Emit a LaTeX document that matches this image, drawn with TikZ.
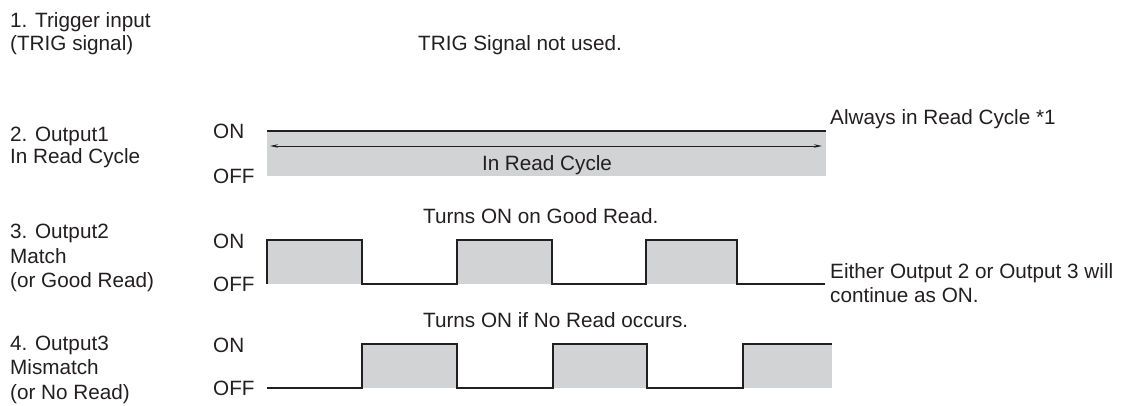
\documentclass[tikz,border=0pt]{standalone}
\usepackage{fontspec}
\setmainfont{Liberation Sans}
\usetikzlibrary{arrows.meta}
\definecolor{ink}{HTML}{231F20}
\definecolor{fillgray}{HTML}{D1D3D4}
\begin{document}
\begin{tikzpicture}[x=1pt,y=-1pt,
  lbl/.style={anchor=base west,inner sep=0pt,text=ink,font=\fontsize{20.7}{24}\selectfont},
  clbl/.style={anchor=base,inner sep=0pt,text=ink,font=\fontsize{20.7}{24}\selectfont},
  wave/.style={draw=ink,line width=1.6pt,line join=miter},
  pulse/.style={fill=fillgray,draw=none}]
\useasboundingbox (0,0) rectangle (1140,405);
% left labels
\node[lbl] (l1a) at (10,27) {1. Trigger input};
\node[lbl] (l1b) at (10,50) {(TRIG signal)};
\node[lbl] (l2a) at (10,141) {2. Output1};
\node[lbl] (l2b) at (10,163) {In Read Cycle};
\node[lbl] (l3a) at (10,238) {3. Output2};
\node[lbl] (l3b) at (10,263) {Match};
\node[lbl] (l3c) at (10,287) {(or Good Read)};
\node[lbl] (l4a) at (10,350) {4. Output3};
\node[lbl] (l4b) at (10,374) {Mismatch};
\node[lbl] (l4c) at (10,399) {(or No Read)};
% ON/OFF labels
\node[lbl] (on1) at (213,138) {ON};
\node[lbl] (off1) at (213,183) {OFF};
\node[lbl] (on2) at (213,248) {ON};
\node[lbl] (off2) at (213,291) {OFF};
\node[lbl] (on3) at (213,352) {ON};
\node[lbl] (off3) at (213,395) {OFF};
% annotations
\node[lbl] (trig) at (418,50) {TRIG Signal not used.};
\node[lbl] (always) at (830,124) {Always in Read Cycle *1};
\node[lbl] (good) at (423,223) {Turns ON on Good Read.};
\node[lbl] (either1) at (830,278) {Either Output 2 or Output 3 will};
\node[lbl] (either2) at (830,302) {continue as ON.};
\node[lbl] (noread) at (423,327) {Turns ON if No Read occurs.};
% Output1
\fill[fillgray] (267,131) rectangle (826,176);
\draw[wave] (267,131) -- (826,131);
\coordinate (arL) at (270,146);
\coordinate (arR) at (822,146);
\draw[ink,line width=1pt,{Stealth[length=8pt,width=3.5pt]}-{Stealth[length=8pt,width=3.5pt]}] (arL) -- (arR);
\node[clbl] (irc) at (547,170) {In Read Cycle};
% Output2
\fill[fillgray] (267,240) rectangle (362,284);
\fill[fillgray] (457,240) rectangle (552,284);
\fill[fillgray] (646,240) rectangle (737,284);
\draw[wave] (267,284) -- (267,240) -- (362,240) -- (362,284) -- (457,284) -- (457,240) -- (552,240) -- (552,284) -- (646,284) -- (646,240) -- (737,240) -- (737,284) -- (825,284);
% Output3
\fill[fillgray] (362,344) rectangle (457,388);
\fill[fillgray] (553,344) rectangle (647,388);
\fill[fillgray] (743,344) rectangle (832,388);
\draw[wave] (267,388) -- (362,388) -- (362,344) -- (457,344) -- (457,388) -- (553,388) -- (553,344) -- (647,344) -- (647,388) -- (743,388) -- (743,344) -- (832,344);
\end{tikzpicture}
\end{document}
